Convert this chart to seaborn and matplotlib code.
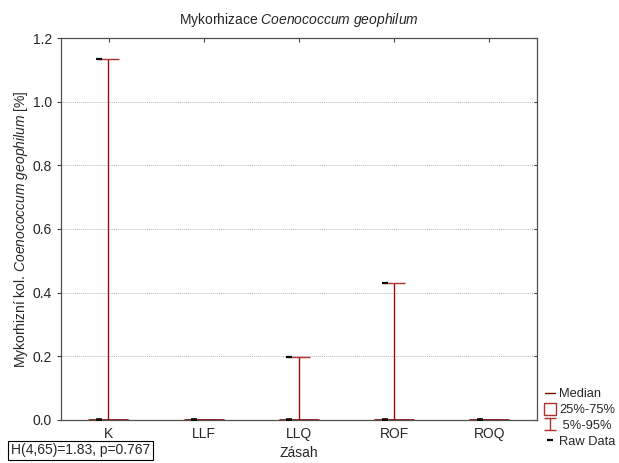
import numpy as np
import pandas as pd
import matplotlib
matplotlib.use("Agg")
import matplotlib.pyplot as plt
from matplotlib import font_manager
from matplotlib.lines import Line2D
from matplotlib.path import Path
from matplotlib.patches import Rectangle
import seaborn as sns

# Treatments (Zásah)
groups = ["K", "LLF", "LLQ", "ROF", "ROQ"]

# Raw colonisation values per treatment [%], 14 samples each
raw_K = [0.0] * 13 + [1.134]
raw_LLF = [0.0] * 14
raw_LLQ = [0.0] * 13 + [0.198]
raw_ROF = [0.0] * 13 + [0.429]
raw_ROQ = [0.0] * 14

# Box summary per treatment
medians = [0.0, 0.0, 0.0, 0.0, 0.0]
q25 = [0.0, 0.0, 0.0, 0.0, 0.0]
q75 = [0.0, 0.0, 0.0, 0.0, 0.0]
p05 = [0.0, 0.0, 0.0, 0.0, 0.0]
p95 = [1.134, 0.0, 0.198, 0.429, 0.0]

yticks = [0.0, 0.2, 0.4, 0.6, 0.8, 1.0, 1.2]
test_text = "H(4,65)=1.83, p=0.767"

sns.set_theme(style="white")

# pick the regular-width Liberation Sans (not the Narrow cut)
fam = "Liberation Sans"
for f in font_manager.fontManager.ttflist:
    fn = f.fname.replace("\\", "/").split("/")[-1]
    if fn in ("LiberationSans-Regular.ttf", "LiberationSans-Italic.ttf"):
        fam = f.name
plt.rcParams["font.family"] = [fam, "DejaVu Sans"]
plt.rcParams["font.stretch"] = "normal"
plt.rcParams["mathtext.fontset"] = "custom"
plt.rcParams["mathtext.rm"] = fam
plt.rcParams["mathtext.it"] = fam + ":italic"
FS = 10

RED = "#9a0a0a"
CAP = "#b03030"

fig = plt.figure(figsize=(6.19, 4.63), dpi=100)
ax = fig.add_axes([0.0985, 0.0929, 0.769, 0.825])

raw = pd.DataFrame({
    "Zásah": np.repeat(groups, 14),
    "value": raw_K + raw_LLF + raw_LLQ + raw_ROF + raw_ROQ,
})

# whiskers, caps, boxes and medians
pos = np.arange(len(groups))
box_w = 0.42
cap_w = 0.23
for i in pos:
    ax.vlines(i, p05[i], p95[i], color=RED, lw=1.0, zorder=3)
    ax.hlines([p05[i], p95[i]], i - cap_w / 2, i + cap_w / 2, color=CAP, lw=1.0, zorder=3)
    ax.add_patch(Rectangle((i - box_w / 2, q25[i]), box_w, q75[i] - q25[i],
                           fill=False, ec=RED, lw=1.0, zorder=3))
    ax.hlines(medians[i], i - box_w / 2, i + box_w / 2, color="#7a0000", lw=1.8, zorder=4)

# raw observations as short black dashes, set just left of each whisker
sns.stripplot(data=raw, x="Zásah", y="value", order=groups, jitter=False,
              marker="_", color="black", s=4.5, linewidth=1.6, ax=ax, zorder=5)
for coll in ax.collections:
    offs = coll.get_offsets()
    if len(offs):
        offs = np.asarray(offs).copy()
        offs[:, 0] -= 0.1
        coll.set_offsets(offs)

ax.set_xlim(-0.5, len(groups) - 0.5)
ax.set_ylim(0, 1.2)
ax.set_yticks(yticks)
ax.set_yticklabels([f"{t:.1f}" for t in yticks])
ax.grid(axis="y", color="#b8b8b8", ls=(0, (1, 1)), lw=0.7)
ax.set_axisbelow(True)
for s in ax.spines.values():
    s.set_color("#505050")
    s.set_linewidth(0.9)
ax.tick_params(axis="y", left=True, right=True, direction="out", length=3, width=0.8,
               color="#404040", labelsize=FS, pad=3.5)
ax.tick_params(axis="x", bottom=False, top=True, direction="in", length=3, width=0.8,
               color="#404040", labelsize=FS, pad=5)
# right-side ticks point inward, left ones outward
for t in ax.yaxis.get_major_ticks():
    t.tick2line.set_marker(matplotlib.markers.TICKLEFT)
    t.tick2line.set_markersize(2.5)

ax.set_xlabel("Zásah", fontsize=FS, labelpad=4)
ax.set_ylabel("Mykorhizní kol. $\\it{Coenococcum\\ geophilum}$ [%]", fontsize=FS, labelpad=2)
ax.set_title("Mykorhizace $\\it{Coenococcum\\ geophilum}$", fontsize=FS, pad=10)

# legend with custom symbols
whisk_path = Path([(-0.5, 0.5), (0.5, 0.5), (0, 0.5), (0, -0.5), (-0.5, -0.5), (0.5, -0.5)],
                  [Path.MOVETO, Path.LINETO, Path.MOVETO, Path.LINETO, Path.MOVETO, Path.LINETO])
handles = [
    Line2D([], [], color="#7a0000", lw=1.0),
    Line2D([], [], ls="none", marker="s", ms=9, mfc="white", mec=CAP, mew=1.0),
    Line2D([], [], ls="none", marker=whisk_path, ms=8.5, mec=CAP, mew=1.0),
    Line2D([], [], ls="none", marker="_", ms=4, mec="black", mew=1.6),
]
labels = ["Median", "25%-75%", " 5%-95%", "Raw Data"]
fig.legend(handles, labels, loc="lower left", bbox_to_anchor=(0.872, 0.022),
           frameon=False, handlelength=0.8, handletextpad=0.3, labelspacing=0.29,
           fontsize=9.3, borderaxespad=0)

fig.text(0.018, 0.012, test_text, fontsize=FS, ha="left", va="bottom",
         bbox=dict(boxstyle="square,pad=0.2", fc="white", ec="black", lw=0.8))

fig.savefig("out.png", dpi=100)
